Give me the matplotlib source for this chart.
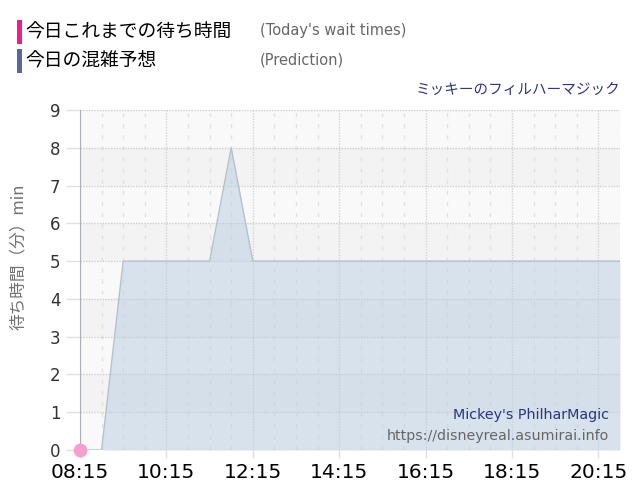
import numpy as np
import matplotlib.pyplot as plt
from matplotlib.patches import Rectangle
from matplotlib.ticker import FixedLocator, FuncFormatter

plt.rcParams['font.family'] = ['DejaVu Sans', 'Noto Sans CJK JP']
JP = ['Noto Sans CJK JP', 'DejaVu Sans']

# prediction (every 30 min)
predTimes = ["08:15", "08:45", "09:15", "09:45", "10:15", "10:45", "11:15", "11:45",
             "12:15", "12:45", "13:15", "13:45", "14:15", "14:45", "15:15", "15:45",
             "16:15", "16:45", "17:15", "17:45", "18:15", "18:45", "19:15", "19:45",
             "20:15", "20:45"]
predValues = [0, 0, 5, 5, 5, 5, 5, 8, 5, 5, 5, 5, 5, 5, 5, 5, 5, 5, 5, 5, 5, 5, 5, 5, 5, 5]

# today's actual waits so far
waitTimes = ["08:15"]
waitValues = [0]

xTickLabels = ["08:15", "10:15", "12:15", "14:15", "16:15", "18:15", "20:15"]
yTicks = [0, 1, 2, 3, 4, 5, 6, 7, 8, 9]


def toHours(t):
    h, m = t.split(":")
    return int(h) + int(m) / 60.0


def fmtTime(v, pos=None):
    h = int(v)
    m = int(round((v - h) * 60))
    return "%02d:%02d" % (h, m)


px = [toHours(t) for t in predTimes]
wx = [toHours(t) for t in waitTimes]

fig = plt.figure(figsize=(6.4, 5.0), dpi=100)
ax = fig.add_axes([80/640, 50/500, 540/640, 340/500])

ax.set_xlim(px[0], px[-1])
ax.set_ylim(0, 9)

#alternating bands
for k in range(9):
    ax.axhspan(k, k+1, color='#f3f3f3' if k % 2 else '#f9f9f9', zorder=0, lw=0)

ax.fill_between(px, predValues, 0, color='#b8cde0', alpha=0.5, lw=0, zorder=1)
ax.plot(px, predValues, color='#b4c0cc', lw=1, zorder=2)

ax.plot(wx, waitValues, 'o', ms=10, color='#f5a0cc', mec='none', clip_on=False, zorder=5)

majorX = [toHours(t) for t in xTickLabels]
minorX = [toHours(t) for t in predTimes]
ax.xaxis.set_major_locator(FixedLocator(majorX))
ax.xaxis.set_minor_locator(FixedLocator(minorX))
ax.xaxis.set_major_formatter(FuncFormatter(fmtTime))
ax.set_yticks(yTicks)

ax.set_axisbelow(True)
ax.grid(axis='y', which='major', linestyle=(0, (1, 1)), color='#cfcfcf', lw=1)
ax.grid(axis='x', which='major', linestyle=(0, (1, 1)), color='#d2d2da', lw=1)
ax.grid(axis='x', which='minor', linestyle=(0, (3, 5)), color='#e2e2e2', lw=1)

ax.tick_params(axis='x', which='major', length=6, width=1, color='#e0e0e0',
               labelsize=14.5, labelcolor='black', pad=3)
ax.tick_params(axis='x', which='minor', length=0)
ax.tick_params(axis='y', length=10, width=1, color='#e0e0e0',
               labelsize=12, labelcolor='#333333', pad=4)

for s in ['top', 'right', 'bottom']:
    ax.spines[s].set_visible(False)
ax.spines['left'].set_color('#aab0b8')

#legend-ish header
fig.add_artist(Rectangle((17/640, 1-44/500), 5/640, 24/500, transform=fig.transFigure,
                         color='#ee1c8c', lw=0))
fig.add_artist(Rectangle((17/640, 1-73/500), 5/640, 24/500, transform=fig.transFigure,
                         color='#5a6898', lw=0))
fig.text(25/640, 1-32/500, '今日これまでの待ち時間', fontsize=13.5, va='center', family=JP)
fig.text(25/640, 1-61/500, '今日の混雑予想', fontsize=13.5, va='center', family=JP)
fig.text(260/640, 1-31/500, "(Today's wait times)", fontsize=10.5, va='center', color='#666666')
fig.text(260/640, 1-60/500, "(Prediction)", fontsize=10.5, va='center', color='#666666')

fig.text(620/640, 1-90/500, 'ミッキーのフィルハーマジック', fontsize=10.5, ha='right',
         va='center', color='#2d3580', family=JP)
fig.text(18/640, 1-257/500, '待ち時間（分）min', fontsize=12, rotation=90, ha='center',
         va='center', color='#707070', family=JP)

fig.text(609/640, 1-415/500, "Mickey's PhilharMagic", fontsize=10.3, ha='right',
         va='center', color='#2d3580')
fig.text(609/640, 1-436/500, "https://disneyreal.asumirai.info", fontsize=10.3, ha='right',
         va='center', color='#666666')

fig.savefig('out.png', dpi=100)
